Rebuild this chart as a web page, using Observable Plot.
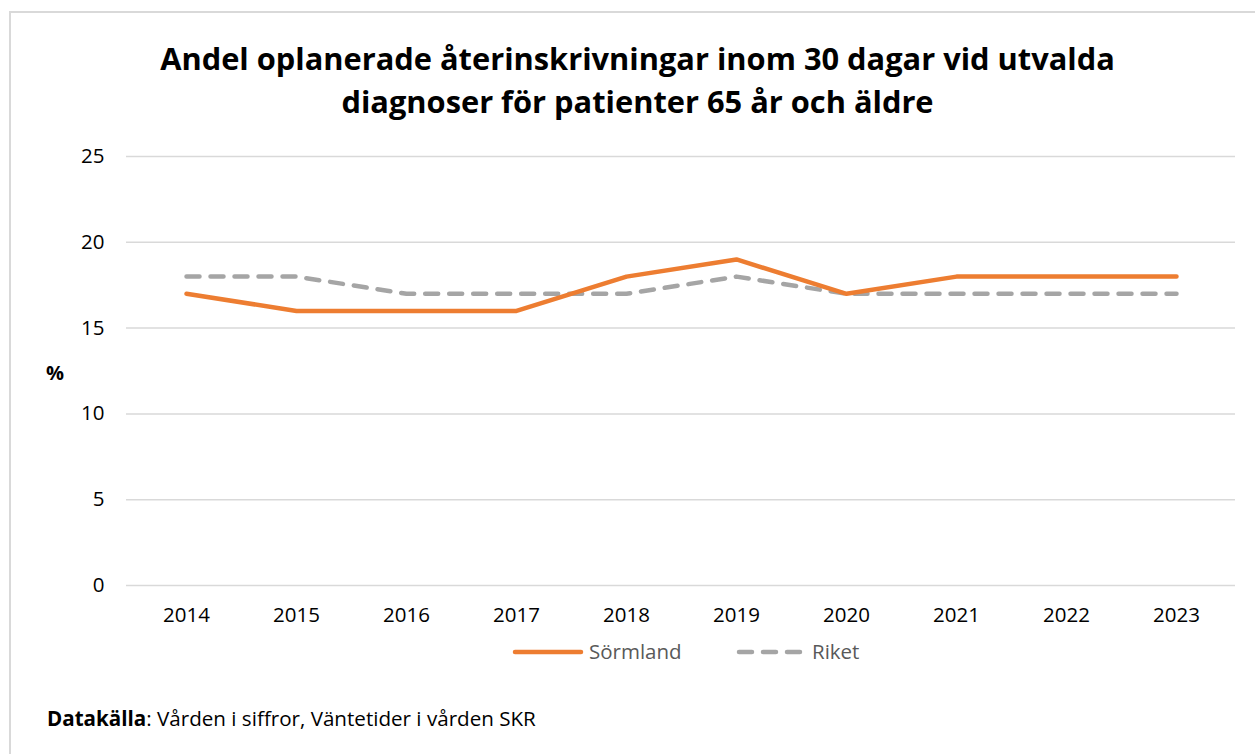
<!DOCTYPE html>
<html>
<head>
<meta charset="utf-8">
<script src="https://cdn.jsdelivr.net/npm/d3@7"></script>
<script src="https://cdn.jsdelivr.net/npm/@observablehq/plot@0.6"></script>
<style>
  html, body { margin: 0; padding: 0; background: #fff; }
  body { width: 1255px; height: 754px; position: relative; overflow: hidden; font-family: "Open Sans", Lato, sans-serif; }
  #frame { position: absolute; left: 9px; top: 11px; width: 1250px; height: 760px; border: 2px solid #d9d9d9; box-sizing: border-box; }
  #title { position: absolute; left: 0; top: 37px; width: 1275px; text-align: center; font-weight: bold; font-size: 30.8px; line-height: 43px; color: #000; }
  #chart { position: absolute; left: 0; top: 140px; }
  #ylab { position: absolute; left: 46px; top: 359px; font-weight: bold; font-size: 20px; }
  #legend { position: absolute; left: 0; top: 638px; width: 1255px; }
  #caption { position: absolute; left: 47px; top: 704px; font-size: 20.6px; color: #000; }
</style>
</head>
<body>
<div id="frame"></div>
<div id="title">Andel oplanerade återinskrivningar inom 30 dagar vid utvalda<br>diagnoser för patienter 65 år och äldre</div>
<div id="chart"></div>
<div id="ylab">%</div>
<div id="legend"></div>
<div id="caption"><b>Datakälla</b>: Vården i siffror, Väntetider i vården SKR</div>
<script>
const years = ["2014","2015","2016","2017","2018","2019","2020","2021","2022","2023"];
const sormland = [17,16,16,16,18,19,17,18,18,18];
const riket = [18,18,17,17,17,18,17,17,17,17];
const yTicks = [0,5,10,15,20,25];
const seriesNames = ["Sörmland","Riket"];
const seriesColors = ["#ED7D31","#A5A5A5"];

const rowsS = years.map((y,i) => ({year: y, value: sormland[i]}));
const rowsR = years.map((y,i) => ({year: y, value: riket[i]}));

const plot = Plot.plot({
  width: 1255,
  height: 500,
  marginLeft: 126,
  marginRight: 20,
  marginTop: 16,
  marginBottom: 55,
  style: {fontFamily: "'Open Sans', Lato, sans-serif", fontSize: "20.5px", color: "#000", background: "transparent"},
  x: {type: "point", domain: years, padding: 0.5, label: null, tickSize: 0, tickPadding: 22},
  y: {domain: [0,25], ticks: yTicks, label: null, tickSize: 0, tickPadding: 22},
  marks: [
    Plot.gridY(yTicks, {stroke: "#d9d9d9", strokeOpacity: 1, strokeWidth: 1.5}),
    Plot.line(rowsR, {x: "year", y: "value", stroke: seriesColors[1], strokeWidth: 4.5, strokeDasharray: "13,11", strokeLinecap: "round", strokeLinejoin: "round"}),
    Plot.line(rowsS, {x: "year", y: "value", stroke: seriesColors[0], strokeWidth: 4.5, strokeLinecap: "round", strokeLinejoin: "round"})
  ]
});
document.getElementById("chart").appendChild(plot);

// legend
const lg = d3.select("#legend").append("svg").attr("width", 1255).attr("height", 30);
const items = [
  {x1: 515, x2: 581, tx: 589, dash: null},
  {x1: 739, x2: 800, tx: 812, dash: "13,11"}
];
items.forEach((it, i) => {
  lg.append("line").attr("x1", it.x1).attr("x2", it.x2).attr("y1", 14).attr("y2", 14)
    .attr("stroke", seriesColors[i]).attr("stroke-width", 4.5).attr("stroke-linecap", "round")
    .attr("stroke-dasharray", it.dash);
  lg.append("text").attr("x", it.tx).attr("y", 14).attr("dy", "0.35em")
    .attr("fill", "#595959").attr("font-size", 20.5).attr("font-family", "'Open Sans', Lato, sans-serif")
    .text(seriesNames[i]);
});
</script>
</body>
</html>
